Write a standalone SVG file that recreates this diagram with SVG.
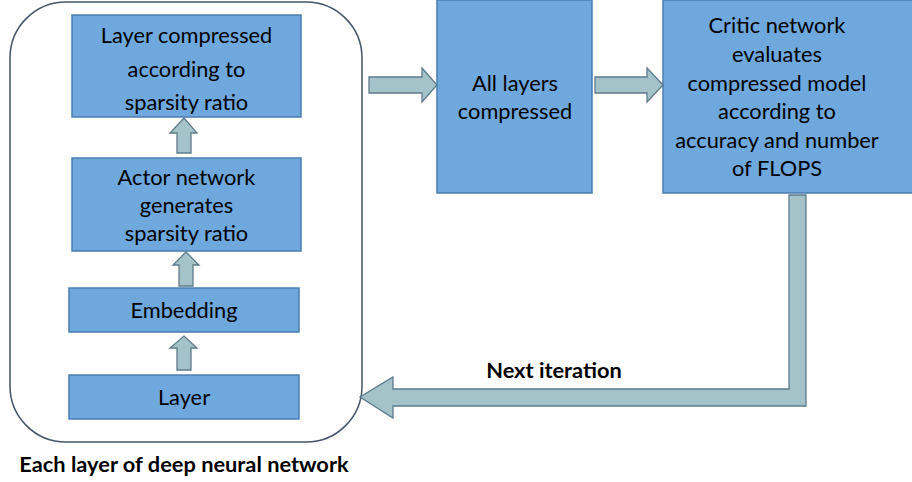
<svg xmlns="http://www.w3.org/2000/svg" width="912" height="482" viewBox="0 0 912 482">
<style>
.box{fill:#6FA8DC;stroke:#4A7DB0;stroke-width:1.5}
.arr{fill:#A3C3C8;stroke:#5E7B8C;stroke-width:1.3;stroke-linejoin:miter}
.t{font-family:Lato,"Liberation Sans",sans-serif;font-size:21.8px;fill:#000;text-anchor:middle}
.b{font-family:Lato,"Liberation Sans",sans-serif;font-size:21.8px;font-weight:bold;fill:#000;text-anchor:middle}
</style>
<rect width="912" height="482" fill="#fff"/>
<g id="container">
<rect x="10" y="2" width="352" height="440" rx="56" ry="56" fill="#fff" stroke="#44546A" stroke-width="1.5"/>
<text class="b" x="184" y="472">Each layer of deep neural network</text>
</g>
<g id="node-layer-compressed">
<rect class="box" x="72" y="15" width="229" height="102"/>
<text class="t" x="186.5" y="43">Layer compressed</text>
<text class="t" x="186.5" y="76.5">according to</text>
<text class="t" x="186.5" y="109.5">sparsity ratio</text>
</g>
<g id="node-actor">
<rect class="box" x="72" y="158" width="229" height="93"/>
<text class="t" x="186.5" y="184.5">Actor network</text>
<text class="t" x="186.5" y="213">generates</text>
<text class="t" x="186.5" y="240.5">sparsity ratio</text>
</g>
<g id="node-embedding">
<rect class="box" x="69" y="288" width="230" height="44"/>
<text class="t" x="184" y="318">Embedding</text>
</g>
<g id="node-layer">
<rect class="box" x="69" y="375" width="230" height="44"/>
<text class="t" x="184" y="405">Layer</text>
</g>
<g id="node-all-layers">
<rect class="box" x="437" y="0" width="155" height="193"/>
<text class="t" x="515" y="90.5">All layers</text>
<text class="t" x="515" y="118.5">compressed</text>
</g>
<g id="node-critic">
<rect class="box" x="663" y="0" width="260" height="193"/>
<text class="t" x="777" y="32.5">Critic network</text>
<text class="t" x="777" y="61.5">evaluates</text>
<text class="t" x="777" y="90.5">compressed model</text>
<text class="t" x="777" y="119">according to</text>
<text class="t" x="777" y="148">accuracy and number</text>
<text class="t" x="777" y="176">of FLOPS</text>
</g>
<g id="connectors">
<polygon class="arr" points="177,153 177,133 170,133 184,118 197,133 191,133 191,153"/>
<polygon class="arr" points="179,286 179,265 173,265 186,252 199,265 193,265 193,286"/>
<polygon class="arr" points="177,370 177,348 170,348 184,336 197,348 191,348 191,370"/>
<polygon class="arr" points="369,77 422,77 422,68 437,85 422,102 422,93 369,93"/>
<polygon class="arr" points="595,77 647,77 647,68 663,85 647,102 647,93 595,93"/>
<polygon class="arr" points="789,195 806,195 806,406 393,406 393,418 360,397 393,377 393,389 789,389"/>
<text class="b" x="554" y="377.5">Next iteration</text>
</g>
</svg>
